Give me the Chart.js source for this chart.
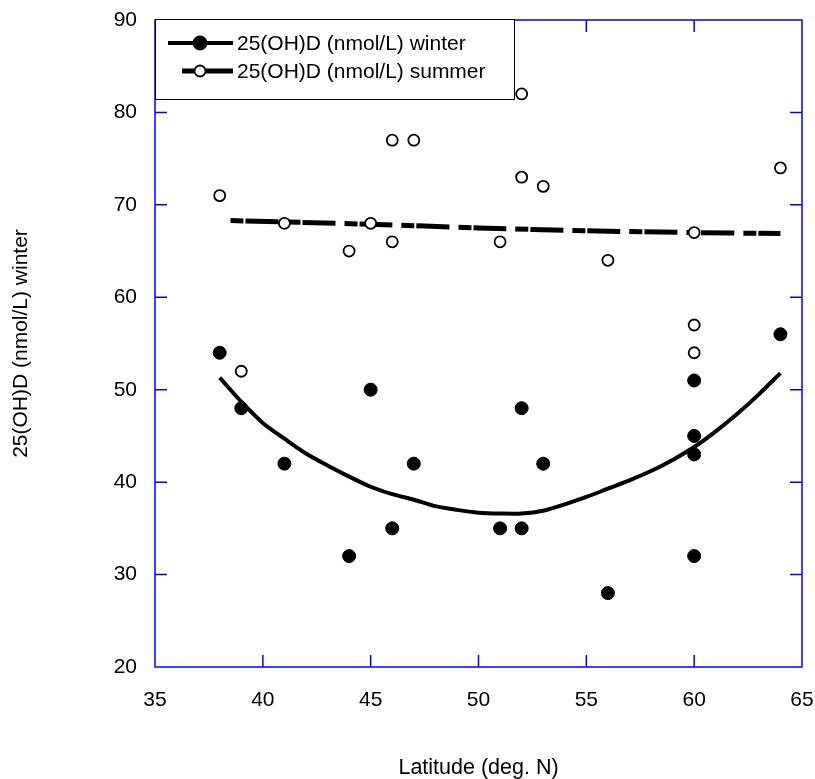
<!DOCTYPE html>
<html>
<head>
<meta charset="utf-8">
<script src="https://cdn.jsdelivr.net/npm/chart.js@4/dist/chart.umd.min.js"></script>
<style>
  html, body { margin: 0; padding: 0; background: #fff; }
  #wrap { width: 815px; height: 779px; }
</style>
</head>
<body>
<div id="wrap"><canvas id="chart" width="815" height="779"></canvas></div>
<script>
// values
const winterLat = [38, 39, 41, 44, 45, 46, 47, 51, 52, 52, 53, 56, 60, 60, 60, 60, 64];
const winterVal = [54, 48, 42, 32, 50, 35, 42, 35, 48, 35, 42, 28, 51, 45, 43, 32, 56];

const summerLat = [38, 39, 41, 44, 45, 46, 46, 47, 51, 52, 52, 53, 56, 60, 60, 60, 64];
const summerVal = [71, 52, 68, 65, 68, 77, 66, 77, 66, 82, 73, 72, 64, 67, 57, 54, 74];

// fitted curves
const winterFitLat = [38, 39, 40, 41, 42, 43, 44, 45, 46, 47, 48, 49, 50, 51, 52, 53, 54, 55, 56, 57, 58, 59, 60, 61, 62, 63, 64];
const winterFitVal = [51.3, 48.7, 46.4, 44.7, 43.1, 41.8, 40.6, 39.5, 38.7, 38.1, 37.4, 37.0, 36.7, 36.6, 36.6, 36.9, 37.6, 38.4, 39.3, 40.2, 41.2, 42.4, 43.8, 45.5, 47.4, 49.5, 51.8];

const summerFitLat = [38.5, 45, 50, 55, 60, 64];
const summerFitVal = [68.3, 67.9, 67.5, 67.2, 67.0, 66.9];

const xTicks = [35, 40, 45, 50, 55, 60, 65];
const yTicks = [20, 30, 40, 50, 60, 70, 80, 90];

const FONT = 'Arial, "Liberation Sans", sans-serif';
const AXIS_BLUE = 'rgb(0,0,255)';

function pts(xs, ys) {
  return xs.map((x, i) => ({ x: x, y: ys[i] }));
}

// blue box round the plot with inward ticks on every side, plus the legend
const framePlugin = {
  id: 'frame',
  beforeDatasetsDraw(chart) {
    const { ctx, chartArea: a, scales } = chart;
    ctx.save();
    ctx.strokeStyle = AXIS_BLUE;
    ctx.lineWidth = 1.5;
    ctx.strokeRect(a.left, a.top, a.right - a.left, a.bottom - a.top);
    const len = 12;
    ctx.beginPath();
    xTicks.slice(1, -1).forEach(v => {
      const px = scales.x.getPixelForValue(v);
      ctx.moveTo(px, a.bottom); ctx.lineTo(px, a.bottom - len);
      ctx.moveTo(px, a.top); ctx.lineTo(px, a.top + len);
    });
    yTicks.slice(1, -1).forEach(v => {
      const py = scales.y.getPixelForValue(v);
      ctx.moveTo(a.left, py); ctx.lineTo(a.left + len, py);
      ctx.moveTo(a.right, py); ctx.lineTo(a.right - len, py);
    });
    ctx.stroke();

    // legend box
    const bx = a.left, by = a.top - 1, bw = 359, bh = 80;
    ctx.fillStyle = '#fff';
    ctx.fillRect(bx, by, bw, bh);
    ctx.strokeStyle = '#000';
    ctx.lineWidth = 1;
    ctx.strokeRect(bx + 0.5, by + 0.5, bw, bh);

    const rows = [
      { y: by + 24, label: '25(OH)D (nmol/L) winter', x0: bx + 13, width: 4, fill: '#000', r: 6.5 },
      { y: by + 52, label: '25(OH)D (nmol/L) summer', x0: bx + 27, width: 5, fill: '#fff', r: 5.5 }
    ];
    rows.forEach(r => {
      ctx.beginPath();
      ctx.strokeStyle = '#000';
      ctx.lineWidth = r.width;
      ctx.moveTo(r.x0, r.y);
      ctx.lineTo(bx + 78, r.y);
      ctx.stroke();
      ctx.beginPath();
      ctx.arc(bx + 45, r.y, r.r, 0, Math.PI * 2);
      ctx.fillStyle = r.fill;
      ctx.fill();
      ctx.lineWidth = 1.8;
      ctx.stroke();
      ctx.fillStyle = '#000';
      ctx.font = '21px ' + FONT;
      ctx.textBaseline = 'middle';
      ctx.textAlign = 'left';
      ctx.fillText(r.label, bx + 82, r.y + 1);
    });
    ctx.restore();
  }
};

const ctx = document.getElementById('chart').getContext('2d');

new Chart(ctx, {
  type: 'scatter',
  data: {
    datasets: [
      {
        label: '25(OH)D (nmol/L) winter',
        data: pts(winterLat, winterVal),
        pointRadius: 6.5,
        pointBackgroundColor: '#000',
        pointBorderColor: '#000',
        pointBorderWidth: 1,
        showLine: false,
        order: 1
      },
      {
        label: '25(OH)D (nmol/L) summer',
        data: pts(summerLat, summerVal),
        pointRadius: 5.5,
        pointBackgroundColor: '#fff',
        pointBorderColor: '#000',
        pointBorderWidth: 1.8,
        showLine: false,
        order: 2
      },
      {
        label: 'winter fit',
        data: pts(winterFitLat, winterFitVal),
        showLine: true,
        pointRadius: 0,
        borderColor: '#000',
        borderWidth: 4,
        tension: 0.3,
        order: 3
      },
      {
        label: 'summer fit',
        data: pts(summerFitLat, summerFitVal),
        showLine: true,
        pointRadius: 0,
        borderColor: '#000',
        borderWidth: 5,
        borderDash: [13, 2, 33, 9],
        borderCapStyle: 'butt',
        tension: 0.3,
        order: 4
      }
    ]
  },
  options: {
    responsive: false,
    animation: false,
    events: [],
    layout: { padding: { top: 20, right: 13, left: 0, bottom: 0 } },
    plugins: {
      legend: { display: false },
      tooltip: { enabled: false }
    },
    scales: {
      x: {
        type: 'linear',
        min: 35,
        max: 65,
        afterFit: s => { s.height = 112; s.paddingLeft = 0; s.paddingRight = 0; },
        afterBuildTicks: s => { s.ticks = xTicks.map(v => ({ value: v })); },
        grid: { display: false, drawTicks: false },
        border: { display: false },
        ticks: { color: '#000', padding: 21, font: { family: FONT, size: 21 }, maxRotation: 0 },
        title: {
          display: true,
          text: 'Latitude (deg. N)',
          color: '#000',
          font: { family: FONT, size: 21.5 },
          padding: { top: 0, bottom: -2 }
        }
      },
      y: {
        type: 'linear',
        min: 20,
        max: 90,
        afterFit: s => { s.width = 155; s.paddingTop = 0; s.paddingBottom = 0; },
        afterBuildTicks: s => { s.ticks = yTicks.map(v => ({ value: v })); },
        grid: { display: false, drawTicks: false },
        border: { display: false },
        ticks: { color: '#000', padding: 18, font: { family: FONT, size: 21 } },
        title: {
          display: true,
          text: '25(OH)D (nmol/L) winter',
          color: '#000',
          font: { family: FONT, size: 21 },
          padding: { top: 9, bottom: 0 }
        }
      }
    }
  },
  plugins: [framePlugin]
});
</script>
</body>
</html>
